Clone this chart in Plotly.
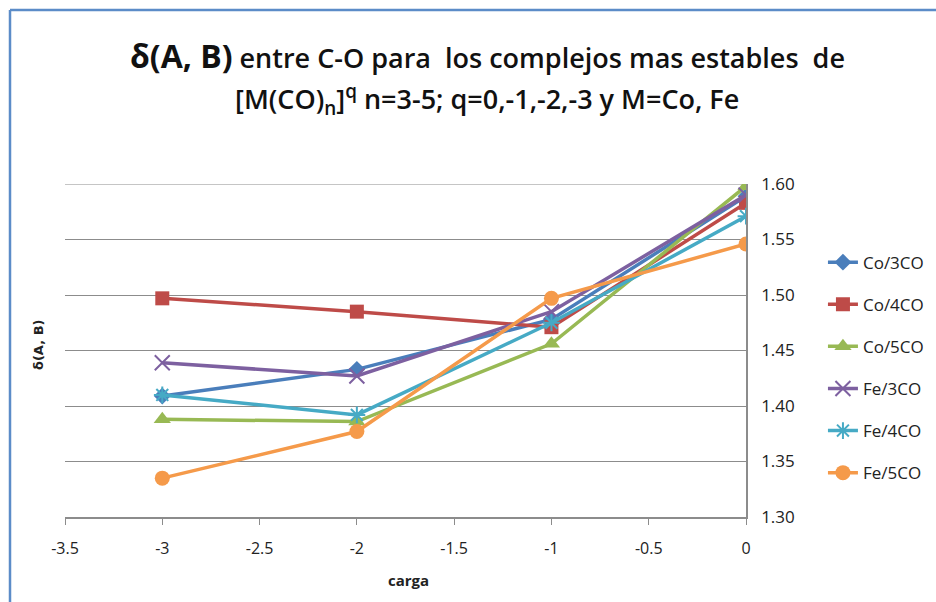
import plotly.graph_objects as go

# Charge of the complex (q) and the delta(A,B) index for the C-O bond
carga = [-3, -2, -1, 0]

series_names = ["Co/3CO", "Co/4CO", "Co/5CO", "Fe/3CO", "Fe/4CO", "Fe/5CO"]
co_3co = [1.409, 1.433, 1.478, 1.589]
co_4co = [1.497, 1.485, 1.471, 1.583]
co_5co = [1.388, 1.386, 1.456, 1.598]
fe_3co = [1.439, 1.427, 1.485, 1.590]
fe_4co = [1.410, 1.392, 1.475, 1.571]
fe_5co = [1.335, 1.377, 1.497, 1.546]

x_tick_vals = [-3.5, -3, -2.5, -2, -1.5, -1, -0.5, 0]
x_tick_text = ["-3.5", "-3", "-2.5", "-2", "-1.5", "-1", "-0.5", "0"]
y_tick_vals = [1.30, 1.35, 1.40, 1.45, 1.50, 1.55, 1.60]
y_tick_text = ["1.30", "1.35", "1.40", "1.45", "1.50", "1.55", "1.60"]

values = [co_3co, co_4co, co_5co, fe_3co, fe_4co, fe_5co]
colors = ["#4A7EBB", "#BE4B48", "#98B954", "#7D60A0", "#46AAC5", "#F59A4A"]
symbols = ["diamond", "square", "triangle-up", "x-thin", "asterisk", "circle"]
sizes = [13, 14, 15, 15, 14, 15]

FONT = "Open Sans, sans-serif"
GRID = "#8C8C8C"

fig = go.Figure()
for i, (name, ys) in enumerate(zip(series_names, values)):
    thin = symbols[i] in ("x-thin", "asterisk")
    fig.add_trace(go.Scatter(
        x=carga, y=ys, name=name, mode="lines+markers",
        legendgroup=name,
        line=dict(color=colors[i], width=3.5),
        marker=dict(symbol=symbols[i], size=sizes[i], color=colors[i],
                    line=dict(color=colors[i], width=2 if thin else 0)),
    ))

fig.update_layout(
    width=936, height=602,
    margin=dict(l=65, r=190, t=184, b=85, autoexpand=False),
    paper_bgcolor="white", plot_bgcolor="white",
    font=dict(family=FONT, size=16, color="#222222"),
    showlegend=True,
    legend=dict(x=1.113, xanchor="left", y=0.818, yanchor="top",
                font=dict(family=FONT, size=17, color="#222222"),
                tracegroupgap=17, bgcolor="rgba(0,0,0,0)"),
    xaxis=dict(range=[-3.5, 0], tickvals=x_tick_vals, ticktext=x_tick_text,
               showgrid=False, zeroline=False, showline=True,
               linecolor=GRID, linewidth=1.5, ticks="outside", ticklen=6,
               tickcolor=GRID, ticklabelstandoff=10,
               tickfont=dict(family=FONT, size=16)),
    yaxis=dict(range=[1.30, 1.60], side="right", tickvals=y_tick_vals,
               ticktext=y_tick_text, showgrid=True, gridcolor=GRID,
               gridwidth=1.2, zeroline=False, showline=True, linecolor=GRID,
               linewidth=1.5, ticks="", ticklabelstandoff=10,
               tickfont=dict(family=FONT, size=17)),
)

# Top gridline at the upper end of the value axis
fig.add_shape(type="line", xref="x", yref="y", layer="below",
              x0=x_tick_vals[0], x1=x_tick_vals[-1],
              y0=y_tick_vals[-1], y1=y_tick_vals[-1],
              line=dict(color=GRID, width=1.2))

# Chart title (two lines)
fig.add_annotation(
    xref="paper", yref="paper", x=(487 - 65) / 681, y=(517 - 55) / 333,
    xanchor="center", yanchor="middle", showarrow=False,
    text="<b><span style='font-size:32px'>δ(A, B)</span></b> entre C-O para&nbsp; los complejos mas estables&nbsp; de",
    font=dict(family=FONT, size=27, color="#111111", weight=600),
)
fig.add_annotation(
    xref="paper", yref="paper", x=(487 - 65) / 681, y=(517 - 100) / 333,
    xanchor="center", yanchor="middle", showarrow=False,
    text="[M(CO)<sub>n</sub>]<sup>q</sup> n=3-5; q=0,-1,-2,-3 y M=Co, Fe",
    font=dict(family=FONT, size=27, color="#111111", weight=600),
)

# Axis titles
fig.add_annotation(
    xref="paper", yref="paper", x=(408 - 65) / 681, y=(517 - 580) / 333,
    xanchor="center", yanchor="middle", showarrow=False,
    text="<b>carga</b>", font=dict(family=FONT, size=15, color="#222222"),
)
fig.add_annotation(
    xref="paper", yref="paper", x=(38 - 65) / 681, y=(517 - 345) / 333,
    xanchor="center", yanchor="middle", showarrow=False, textangle=-90,
    text="<b>δ(A, B)</b>", font=dict(family="DejaVu Sans, sans-serif", size=13, color="#222222"),
)

# Chart-area frame edges along the top and left
fig.add_shape(type="line", xref="paper", yref="paper",
              x0=(10 - 65) / 681, x1=(936 - 65) / 681,
              y0=(517 - 10) / 333, y1=(517 - 10) / 333,
              line=dict(color="#5B8CC8", width=2.5))
fig.add_shape(type="line", xref="paper", yref="paper",
              x0=(10 - 65) / 681, x1=(10 - 65) / 681,
              y0=(517 - 10) / 333, y1=(517 - 602) / 333,
              line=dict(color="#5B8CC8", width=2.5))

fig.write_html("out.html")
